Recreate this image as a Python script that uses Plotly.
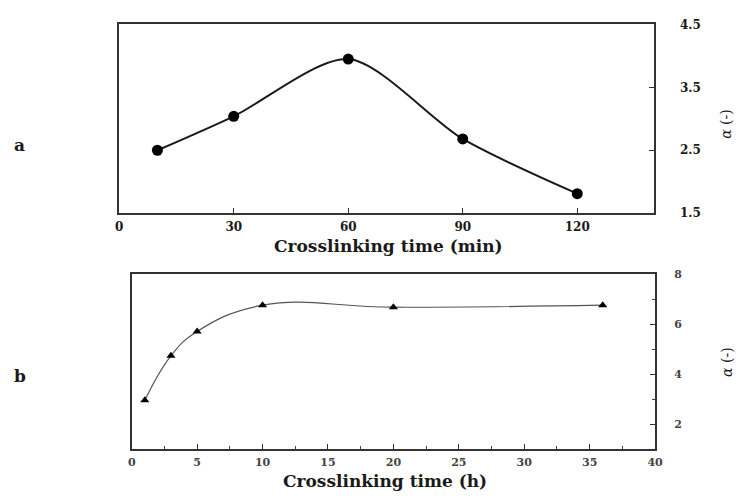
import plotly.graph_objects as go

# Panel a: crosslinking time in minutes vs alpha
time_min = [10, 30, 60, 90, 120]
alpha_a = [2.50, 3.04, 3.95, 2.68, 1.81]

# Panel b: crosslinking time in hours vs alpha
time_h = [1, 3, 5, 10, 20, 36]
alpha_b = [2.96, 4.74, 5.71, 6.76, 6.68, 6.76]

xticks_a = [0, 30, 60, 90, 120]
yticks_a = [1.5, 2.5, 3.5, 4.5]
xticks_b = [0, 5, 10, 15, 20, 25, 30, 35, 40]
yticks_b = [2, 4, 6, 8]

SERIF = "DejaVu Serif"
TEXT = "#1a1a1a"

fig = go.Figure()

fig.add_trace(go.Scatter(
    x=time_min, y=alpha_a, mode="lines+markers",
    line=dict(color="#1a1a1a", width=2, shape="spline", smoothing=0.8),
    marker=dict(symbol="circle", size=11, color="#000"),
    xaxis="x", yaxis="y", showlegend=False,
))

fig.add_trace(go.Scatter(
    x=time_h, y=alpha_b, mode="lines+markers",
    line=dict(color="#555", width=1.2, shape="spline", smoothing=1.2),
    marker=dict(symbol="triangle-up", size=8, color="#000"),
    xaxis="x2", yaxis="y2", showlegend=False,
))

axis_common = dict(
    showgrid=False, zeroline=False, showline=True, mirror=True,
    linecolor="#333", linewidth=2, ticks="inside", ticklen=5,
    tickcolor="#333",
)
font_a = dict(family=SERIF, size=12, color=TEXT, weight="bold")
font_b = dict(family=SERIF, size=11, color="#444", weight="bold")

fig.update_layout(
    width=746, height=498,
    margin=dict(l=0, r=0, t=0, b=0),
    paper_bgcolor="white", plot_bgcolor="white",
    xaxis=dict(domain=[0.157, 0.885], range=[0, 140], tickvals=xticks_a,
               anchor="y", tickfont=font_a, ticklabelstandoff=1, **axis_common),
    yaxis=dict(domain=[0.574, 0.964], range=[1.5, 4.5], tickvals=yticks_a,
               tickformat=".1f", side="right", anchor="x",
               tickfont=font_a, ticklabelstandoff=22, **axis_common),
    xaxis2=dict(domain=[0.174, 0.887], range=[0, 40], tickvals=xticks_b,
                anchor="y2", tickfont=font_b, ticklabelstandoff=1,
                minor=dict(ticks="inside", ticklen=3, dtick=2.5, tickcolor="#444"),
                **axis_common),
    yaxis2=dict(domain=[0.086, 0.448], range=[1, 8], tickvals=yticks_b,
                side="right", anchor="x2", tickfont=font_b, ticklabelstandoff=15,
                minor=dict(ticks="inside", ticklen=3, dtick=1, tickcolor="#444"),
                **axis_common),
)


def label(text, x_px, y_px, size, angle=0):
    return dict(text=text, x=x_px / 746, y=1 - y_px / 498, textangle=angle,
                xref="paper", yref="paper", xanchor="center", yanchor="middle",
                showarrow=False, font=dict(family=SERIF, size=size, color=TEXT))


annotations = [
    label("<b>Crosslinking time (min)</b>", 391, 246, 17),
    label("<b>Crosslinking time (h)</b>", 387, 488, 17),
    label("<i>α</i> (-)", 733, 120, 14, -90),
    label("<i>α</i> (-)", 735, 365, 14, -90),
    label("<b>a</b>", 16, 142, 17),
    label("<b>b</b>", 16, 380, 17),
]
fig.update_layout(annotations=annotations)

fig.write_html("out.html")
